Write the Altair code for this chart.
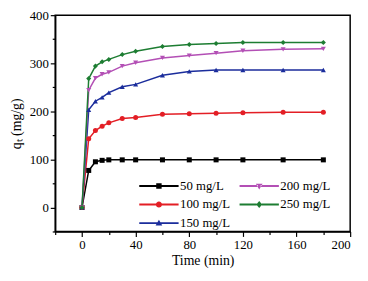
import altair as alt
import pandas as pd

time_min = [0, 5, 10, 15, 20, 30, 40, 60, 80, 100, 120, 150, 180]
q_50 = [0, 77, 95, 98, 99, 99, 99, 99, 99, 99, 99, 99, 99]
q_100 = [0, 143, 160, 169, 176, 185, 187, 194, 195, 196, 197, 198, 198]
q_150 = [0, 203, 221, 229, 239, 251, 256, 275, 283, 286, 286, 286, 286]
q_200 = [0, 244, 269, 277, 281, 294, 301, 311, 316, 321, 326, 329, 330]
q_250 = [0, 268, 294, 303, 308, 318, 325, 335, 339, 341, 343, 343, 343]

series_names = ["50 mg/L", "100 mg/L", "150 mg/L", "200 mg/L", "250 mg/L"]
series_values = [q_50, q_100, q_150, q_200, q_250]
series_colors = ["#000000", "#e31e25", "#1b2d9c", "#b34fb5", "#1d7d32"]
marker_shapes = ["square", "circle", "triangle-up", "triangle-down", "diamond"]

# legend symbols: short line with marker (units: 1 = 4px at size 64)
legend_paths = [
    "M-4,-0.19H-0.5V0.19H-4Z M0.5,-0.19H4V0.19H0.5Z M-0.55,-0.55H0.55V0.55H-0.55Z",
    "M-4,-0.19H-0.5V0.19H-4Z M0.5,-0.19H4V0.19H0.5Z M-0.62,0A0.62,0.62 0 1,1 0.62,0A0.62,0.62 0 1,1 -0.62,0Z",
    "M-4,-0.19H-0.3V0.19H-4Z M0.3,-0.19H4V0.19H0.3Z M0,-0.7L0.68,0.48L-0.68,0.48Z",
    "M-4,-0.19H-0.3V0.19H-4Z M0.3,-0.19H4V0.19H0.3Z M0,0.7L0.68,-0.48L-0.68,-0.48Z",
    "M-4,-0.19H-0.5V0.19H-4Z M0.5,-0.19H4V0.19H0.5Z M0,-0.7L0.6,0L0,0.7L-0.6,0Z",
]

rows = []
for name, vals in zip(series_names, series_values):
    for t, q in zip(time_min, vals):
        rows.append({"time": t, "q": q, "series": name})
df = pd.DataFrame(rows)

x_ticks = [-20, 0, 20, 40, 60, 80, 100, 120, 140, 160, 180, 200]
y_ticks = [-50, 0, 50, 100, 150, 200, 250, 300, 350, 400]

x_enc = alt.X(
    "time:Q",
    scale=alt.Scale(domain=[-20, 200], nice=False, zero=False),
    axis=alt.Axis(
        title="Time (min)",
        values=x_ticks,
        labelExpr="datum.value % 40 === 0 ? datum.label : ''",
        tickSize={"condition": {"test": "datum.value % 40 === 0", "value": 5}, "value": 3},
    ),
)
y_enc = alt.Y(
    "q:Q",
    scale=alt.Scale(domain=[-50, 400], nice=False, zero=False),
    axis=alt.Axis(
        title="qₜ (mg/g)",
        values=y_ticks,
        labelExpr="datum.value % 100 === 0 ? datum.label : ''",
        tickSize={"condition": {"test": "datum.value % 100 === 0", "value": 5}, "value": 3},
    ),
)

color_plain = alt.Color(
    "series:N",
    scale=alt.Scale(domain=series_names, range=series_colors),
    legend=None,
)

base = alt.Chart(df)

lines = base.mark_line(strokeWidth=1.5).encode(
    x=x_enc, y=y_enc, color=color_plain, detail="series:N"
)
points = base.mark_point(filled=True, size=26, opacity=1).encode(
    x=x_enc,
    y=y_enc,
    color=color_plain,
    shape=alt.Shape(
        "series:N",
        scale=alt.Scale(domain=series_names, range=marker_shapes),
        legend=None,
    ),
)

leg = alt.Legend(
    title=None,
    orient="none",
    legendX=99,
    legendY=167,
    columns=2,
    columnPadding=9,
    rowPadding=5,
    padding=0,
    labelOffset=15,
    labelFont="Liberation Serif",
    labelFontSize=13,
    labelColor="#000000",
    symbolStrokeWidth=0,
    symbolOpacity=1,
)
legend_layer = base.transform_filter("false").mark_point(
    filled=True, size=64, opacity=1, strokeWidth=0
).encode(
    color=alt.Color(
        "series:N",
        scale=alt.Scale(domain=series_names, range=series_colors),
        legend=leg,
    ),
    shape=alt.Shape(
        "series:N",
        scale=alt.Scale(domain=series_names, range=legend_paths),
        legend=leg,
    ),
)

chart = (
    alt.layer(lines, points, legend_layer)
    .resolve_scale(color="independent", shape="independent")
    .properties(
        width=300,
        height=220,
        autosize=alt.AutoSizeParams(type="none"),
        padding={"left": 48, "top": 5, "right": 10, "bottom": 44},
    )
    .configure_view(stroke="#000000", strokeWidth=1.5)
    .configure_axis(
        grid=False,
        domainColor="#000000",
        domainWidth=1.5,
        tickColor="#000000",
        tickWidth=1.2,
        labelFont="Liberation Serif",
        labelFontSize=13,
        labelColor="#000000",
        labelPadding=2,
        titleFont="Liberation Serif",
        titleFontSize=14,
        titleFontWeight="normal",
        titleColor="#000000",
    )
    .configure_axisY(titlePadding=6)
    .configure_axisX(titlePadding=3)
)

chart.save("out.html", embed_options={"renderer": "svg", "actions": False})
